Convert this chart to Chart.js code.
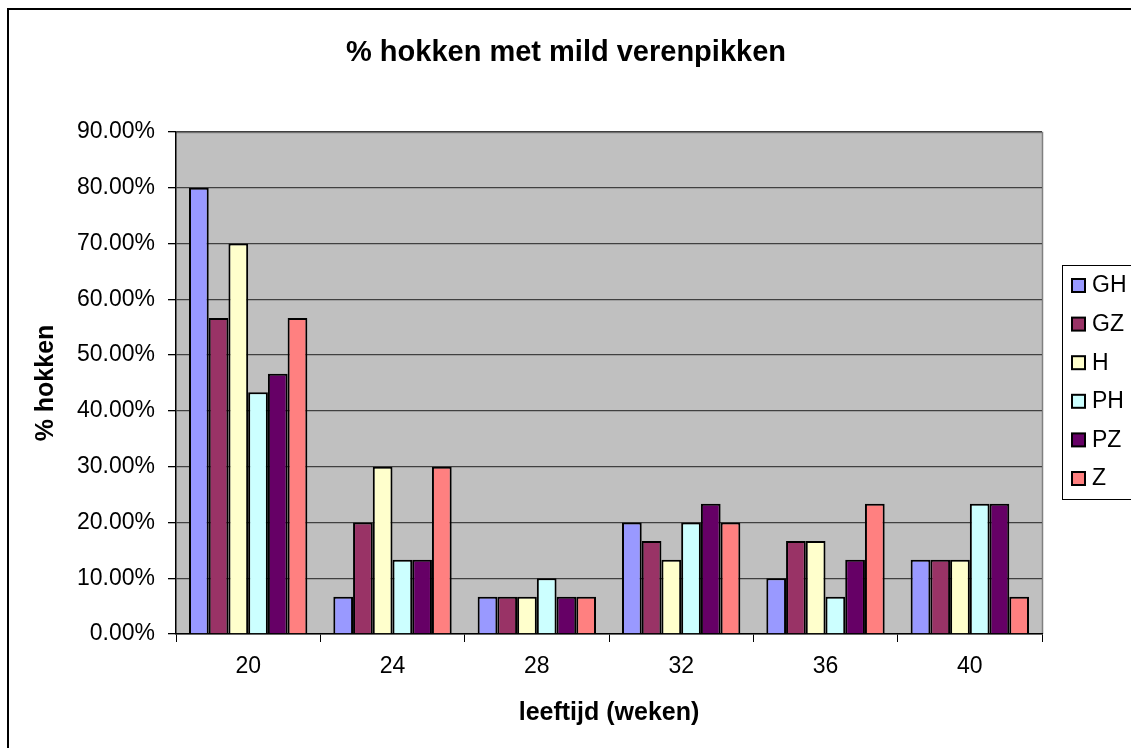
<!DOCTYPE html>
<html>
<head>
<meta charset="utf-8">
<script src="https://cdn.jsdelivr.net/npm/chart.js@4.4.0/dist/chart.umd.min.js"></script>
<style>
  html, body { margin: 0; padding: 0; background: #fff; }
  #wrap { width: 1131px; height: 748px; position: relative; }
</style>
</head>
<body>
<div id="wrap"><canvas id="chart" width="1131" height="748"></canvas></div>
<script>
// Données
const weeks = ['20', '24', '28', '32', '36', '40'];
const seriesNames = ['GH', 'GZ', 'H', 'PH', 'PZ', 'Z'];
const seriesColors = ['#9999FF', '#993366', '#FFFFCC', '#CCFFFF', '#660066', '#FF8080'];

const GH = [80.00, 6.67, 6.67, 20.00, 10.00, 13.33];
const GZ = [56.67, 20.00, 6.67, 16.67, 16.67, 13.33];
const H  = [70.00, 30.00, 6.67, 13.33, 16.67, 13.33];
const PH = [43.33, 13.33, 10.00, 20.00, 6.67, 23.33];
const PZ = [46.67, 13.33, 6.67, 23.33, 13.33, 23.33];
const Z  = [56.67, 30.00, 6.67, 20.00, 23.33, 6.67];
const seriesValues = [GH, GZ, H, PH, PZ, Z];

const yTicks = [0, 10, 20, 30, 40, 50, 60, 70, 80, 90];

const chartTitle = '% hokken met mild verenpikken';
const FONT = 'Arial, "Liberation Sans", sans-serif';

// fond gris de la zone de tracé + cadre extérieur + titre
const backgroundPlugin = {
    id: 'plotBackground',
    beforeDraw(chart) {
        const { ctx, chartArea: a } = chart;
        ctx.save();
        ctx.fillStyle = '#C0C0C0';
        ctx.fillRect(a.left, a.top, a.right - a.left, a.bottom - a.top);
        ctx.strokeStyle = '#808080';
        ctx.lineWidth = 1.5;
        ctx.beginPath();
        ctx.moveTo(a.left, a.top + 0.5);
        ctx.lineTo(a.right + 0.5, a.top + 0.5);
        ctx.lineTo(a.right + 0.5, a.bottom);
        ctx.stroke();
        // cadre extérieur du graphique
        ctx.strokeStyle = '#000';
        ctx.lineWidth = 2;
        ctx.strokeRect(8, 9, chart.width + 10, chart.height + 10);
        // titre centré sur le cadre (et pas sur la zone hors légende)
        ctx.fillStyle = '#000';
        ctx.font = 'bold 29px ' + FONT;
        ctx.textAlign = 'center';
        ctx.textBaseline = 'middle';
        ctx.fillText(chartTitle, 566, 53);
        ctx.restore();
    }
};

// légende dessinée à la main (style Excel)
const legendPlugin = {
    id: 'boxLegend',
    afterDraw(chart) {
        const { ctx } = chart;
        const x0 = 1062, y0 = 265, w = 80, h = 234;
        const step = 38.6;
        ctx.save();
        ctx.strokeStyle = '#000';
        ctx.lineWidth = 1;
        ctx.strokeRect(x0 + 0.5, y0 + 0.5, w, h);
        ctx.font = '23px ' + FONT;
        ctx.textBaseline = 'middle';
        chart.data.datasets.forEach((ds, i) => {
            const cy = y0 + 20 + i * step;
            ctx.fillStyle = ds.backgroundColor;
            ctx.fillRect(x0 + 10, cy - 6, 13, 13);
            ctx.lineWidth = 2;
            ctx.strokeRect(x0 + 10, cy - 6, 13, 13);
            ctx.fillStyle = '#000';
            ctx.fillText(ds.label, x0 + 30, cy + 1);
        });
        ctx.restore();
    }
};

const datasets = seriesNames.map((name, i) => ({
    label: name,
    data: seriesValues[i],
    backgroundColor: seriesColors[i],
    borderColor: '#000',
    borderWidth: 2,
    categoryPercentage: 0.82,
    barPercentage: 1.0
}));

new Chart(document.getElementById('chart').getContext('2d'), {
    type: 'bar',
    data: { labels: weeks, datasets },
    plugins: [backgroundPlugin, legendPlugin],
    options: {
        responsive: false,
        animation: false,
        layout: { padding: { left: 0, right: 89, top: 132, bottom: 14 } },
        plugins: {
            legend: { display: false },
            tooltip: { enabled: false },
            title: { display: false }
        },
        scales: {
            x: {
                grid: {
                    display: true,
                    drawOnChartArea: false,
                    offset: true,
                    color: '#000',
                    tickLength: 8,
                    tickWidth: 1
                },
                border: { display: true, color: '#000', width: 1.5 },
                ticks: { color: '#000', font: { family: FONT, size: 23 }, padding: 11 },
                title: {
                    display: true,
                    text: 'leeftijd (weken)',
                    color: '#000',
                    font: { family: FONT, size: 25, weight: 'bold' },
                    padding: { top: 0, bottom: 6 }
                },
                afterFit(scale) { scale.height = 100; }
            },
            y: {
                min: 0,
                max: 90,
                afterBuildTicks(scale) { scale.ticks = yTicks.map(v => ({ value: v })); },
                grid: {
                    color: '#404040',
                    lineWidth: 1.3,
                    tickLength: 8,
                    tickColor: '#000'
                },
                border: { display: true, color: '#000', width: 1.5 },
                ticks: {
                    color: '#000',
                    font: { family: FONT, size: 23 },
                    padding: 13,
                    callback: v => v.toFixed(2) + '%'
                },
                title: {
                    display: true,
                    text: '% hokken',
                    color: '#000',
                    font: { family: FONT, size: 25, weight: 'bold' },
                    padding: { top: 31, bottom: 0 }
                },
                afterFit(scale) { scale.width = 176; }
            }
        }
    }
});
</script>
</body>
</html>
